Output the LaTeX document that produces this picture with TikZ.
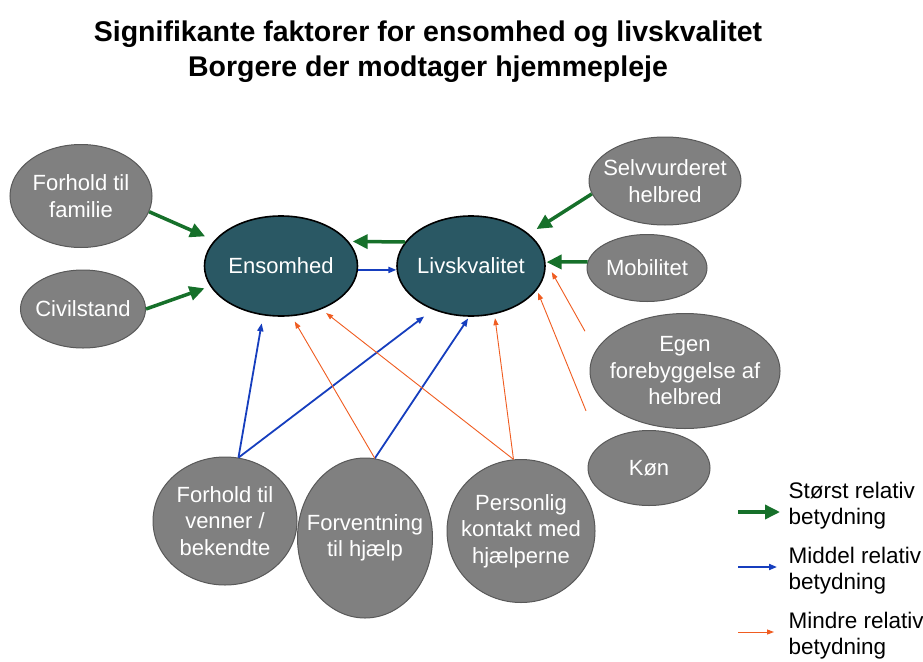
\documentclass[tikz,border=0pt]{standalone}
\usepackage{fontspec}
\setmainfont{Liberation Sans}
\usetikzlibrary{arrows.meta,shapes.geometric}

\definecolor{factorgray}{RGB}{128,128,128}
\definecolor{mainteal}{RGB}{42,88,100}
\definecolor{bigcol}{RGB}{22,112,42}
\definecolor{midcol}{RGB}{22,62,190}
\definecolor{smallcol}{RGB}{240,92,32}

\tikzset{
  factor/.style={ellipse, draw=black!65, line width=1pt, fill=factorgray,
    text=white, inner sep=-16pt, align=center, font=\fontsize{22}{26.5}\selectfont},
  outcome/.style={factor, fill=mainteal, draw=black, line width=1.6pt},
  bigrel/.style={draw=bigcol, line width=3.5pt, -{Triangle[length=15pt,width=14pt]}},
  midrel/.style={draw=midcol, line width=1.8pt, -{Triangle[length=8pt,width=6pt]}},
  smallrel/.style={draw=smallcol, line width=0.9pt, -{Triangle[length=7pt,width=5pt]}},
  legendtxt/.style={anchor=west, align=left, font=\fontsize{22.5}{26}\selectfont}
}

\begin{document}
\begin{tikzpicture}[x=1pt,y=-1pt]
\useasboundingbox[fill=white] (0,0) rectangle (923,661);

% Title
\node[align=center, font=\bfseries\fontsize{28.5}{35}\selectfont] (title) at (428,52)
  {Signifikante faktorer for ensomhed og livskvalitet\\Borgere der modtager hjemmepleje};

% Outcomes
\node[outcome, minimum width=153pt, minimum height=100pt] (ens) at (281,266) {Ensomhed};
\node[outcome, minimum width=148pt, minimum height=100pt] (liv) at (471,266) {Livskvalitet};

% Factors
\node[factor, minimum width=142pt, minimum height=103pt] (familie) at (81,196) {Forhold til\\familie};
\node[factor, minimum width=125pt, minimum height=78pt] (civil) at (83,309) {Civilstand};
\node[factor, minimum width=152pt, minimum height=88pt] (selv) at (665,181) {Selvvurderet\\helbred};
\node[factor, minimum width=120pt, minimum height=67pt] (mobil) at (647,268) {Mobilitet};
\node[factor, minimum width=190pt, minimum height=115pt] (egen) at (685,371) {Egen\\forebyggelse af\\helbred};
\node[factor, minimum width=122pt, minimum height=75pt] (koen) at (649,468) {Køn};
\node[factor, minimum width=144pt, minimum height=128pt] (venner) at (225,521) {Forhold til\\venner /\\bekendte};
\node[factor, minimum width=135pt, minimum height=160pt] (forv) at (365,538) {Forventning\\til hjælp};
\node[factor, minimum width=148pt, minimum height=143pt] (pers) at (521,531) {Personlig\\kontakt med\\hjælperne};

% Green arrows
\draw[bigrel, shorten >=10pt] (familie.347) -- (ens.159);
\draw[bigrel, shorten >=6pt] (civil.0) -- (ens.196);
\draw[bigrel, shorten >=4pt] (liv.160) -- (ens.20);
\draw[bigrel, shorten >=9pt] (selv.190) -- (liv.29);
\draw[bigrel, shorten >=1pt] (mobil.174) -- (liv.3);

% Blue arrows
\draw[midrel] (ens.-3) -- (liv.183);
\draw[midrel, shorten >=8pt] (venner.78) -- (ens.250);
\draw[midrel, shorten >=11pt] (venner.78) -- (liv.229);
\draw[midrel, shorten >=2pt] (forv.83) -- (liv.268);

% Orange arrows
\draw[smallrel, shorten >=6pt] (forv.83) -- (ens.282);
\draw[smallrel, shorten >=6pt] (pers.96) -- (ens.313);
\draw[smallrel, shorten >=4pt] (pers.96) -- (liv.296);
\draw[smallrel, shorten <=22pt, shorten >=13pt] (egen.167) -- (liv.4);
\draw[smallrel, shorten <=37pt, shorten >=3pt] (koen.155) -- (liv.340);

% Legend
\node[legendtxt] (lgbig) at (785,506) {Størst relativ\\betydning};
\node[legendtxt] (lgmid) at (785,571) {Middel relativ\\betydning};
\node[legendtxt] (lgsmall) at (785,636) {Mindre relativ\\betydning};
\draw[bigrel] ([xshift=-47pt,yshift=-6pt]lgbig.west) -- ([xshift=-5pt,yshift=-6pt]lgbig.west);
\draw[midrel] ([xshift=-47pt,yshift=4pt]lgmid.west) -- ([xshift=-8pt,yshift=4pt]lgmid.west);
\draw[smallrel] ([xshift=-47pt,yshift=4pt]lgsmall.west) -- ([xshift=-11pt,yshift=4pt]lgsmall.west);
\end{tikzpicture}
\end{document}
